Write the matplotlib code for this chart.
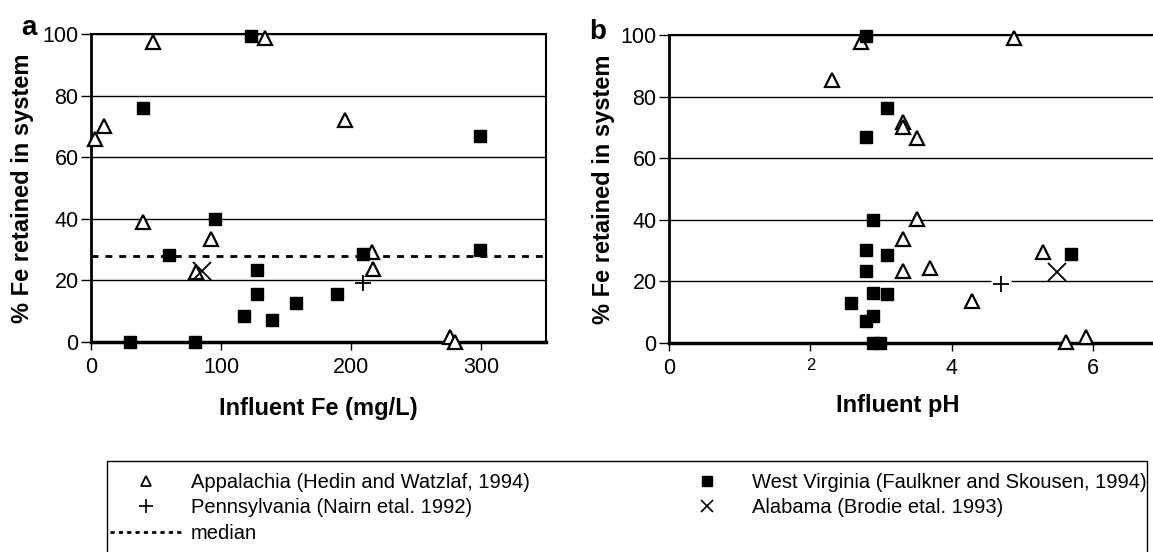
import matplotlib.pyplot as plt
from matplotlib.lines import Line2D
from matplotlib.patches import Rectangle

plt.rcParams['font.family'] = ['Liberation Sans', 'DejaVu Sans']

# Appalachia (Hedin and Watzlaf, 1994)
app_fe = [3, 10, 48, 134, 195, 40, 92, 81, 216, 217, 276, 280]
app_ret_fe = [66, 70, 97.5, 98.8, 72, 39, 33.3, 22.8, 29.3, 23.6, 1.7, 0.1]
app_ph = [4.88, 2.71, 2.31, 3.31, 3.31, 3.5, 3.5, 3.31, 3.31, 3.69, 5.29, 4.29, 5.61, 5.89]
app_ret_ph = [99.1, 97.8, 85.4, 71.8, 70, 66.7, 40.2, 33.7, 23.5, 24.3, 29.6, 13.7, 0.3, 1.8]

# West Virginia (Faulkner and Skousen, 1994)
wv_fe = [40, 123, 95, 60, 128, 128, 118, 139, 158, 189, 209, 299, 299, 30, 80]
wv_ret_fe = [76, 99.5, 39.8, 28.2, 23.4, 15.6, 8.4, 7.1, 12.8, 15.6, 28.6, 67, 29.9, 0, 0]
wv_ph = [2.79, 3.08, 2.79, 2.89, 2.79, 3.08, 2.79, 2.89, 3.08, 2.57, 2.89, 2.79, 2.89, 2.98, 5.69]
wv_ret_ph = [99.7, 76.2, 67, 39.9, 30.2, 28.6, 23.4, 16.1, 15.8, 12.9, 8.8, 7.2, 0, 0, 28.9]

# Pennsylvania (Nairn etal. 1992) and Alabama (Brodie etal. 1993)
pa_fe, pa_ph, pa_ret = [209], [4.69], [19.2]
al_fe, al_ph, al_ret = [85], [5.48], [23.2]

median_ret = 28

y_ticks = [0, 20, 40, 60, 80, 100]

app_style = dict(ls='none', marker='^', ms=10, mfc='white', mec='black', mew=1.6)
wv_style = dict(ls='none', marker='s', ms=8.5, mfc='black', mec='black', mew=1)
pa_style = dict(ls='none', marker='+', ms=12, mec='black', mew=1.3)
al_style = dict(ls='none', marker='x', ms=13, mec='black', mew=1.3)

TICK_FS = 15.5
LABEL_FS = 17


def setup_axes(ax):
    ax.set_ylim(0, 100)
    ax.set_yticks(y_ticks)
    ax.yaxis.grid(True, color='black', lw=1)
    ax.set_axisbelow(True)
    ax.spines['left'].set_linewidth(2)
    ax.spines['bottom'].set_linewidth(2.5)
    ax.spines['top'].set_linewidth(1.5)
    ax.spines['right'].set_linewidth(1.5)
    ax.tick_params(axis='y', direction='out', length=7, width=1, labelsize=TICK_FS, pad=2)
    ax.tick_params(axis='x', direction='out', length=6, width=1, labelsize=TICK_FS, pad=5)
    ax.set_ylabel('% Fe retained in system', fontsize=LABEL_FS, fontweight='bold')


fig = plt.figure(figsize=(11.53, 5.52), dpi=100)
W, H = 1153, 552

# Panel a: retention against influent Fe
ax1 = fig.add_axes([91 / W, 1 - 342 / H, 455 / W, 308 / H])
setup_axes(ax1)
ax1.set_xlim(0, 350)
ax1.set_xticks([0, 100, 200, 300])
ax1.axhline(median_ret, color='black', lw=2, ls=(0, (2.5, 2.5)), zorder=2)
ax1.plot(app_fe, app_ret_fe, clip_on=False, zorder=3, **app_style)
ax1.plot(wv_fe, wv_ret_fe, clip_on=False, zorder=3, **wv_style)
ax1.plot(pa_fe, pa_ret, zorder=3, **pa_style)
ax1.plot(al_fe, al_ret, zorder=3, **al_style)
ax1.set_xlabel('Influent Fe (mg/L)', fontsize=LABEL_FS, fontweight='bold')
ax1.xaxis.set_label_coords(0.5, -0.18)
ax1.yaxis.set_label_coords(-0.125, 0.5)
ax1.text(-0.136, 1.02, 'a', transform=ax1.transAxes, fontsize=20,
         fontweight='bold', ha='center', va='center')

# Panel b: retention against influent pH
ax2 = fig.add_axes([669 / W, 1 - 343 / H, 495 / W, 308 / H])
setup_axes(ax2)
ax2.set_xlim(0, 7)
ax2.set_xticks([0, 2, 4, 6])
ax2.get_xticklabels()[1].set_fontsize(12)
ax2.plot(app_ph, app_ret_ph, clip_on=False, zorder=3, **app_style)
ax2.plot(wv_ph, wv_ret_ph, clip_on=False, zorder=3, **wv_style)
ax2.plot(pa_ph, pa_ret, ls='none', marker='s', ms=14, mfc='white', mec='none', zorder=2)
ax2.plot(pa_ph, pa_ret, zorder=3, **pa_style)
ax2.plot(al_ph, al_ret, zorder=3, **al_style)
ax2.set_xlabel('Influent pH', fontsize=LABEL_FS, fontweight='bold')
ax2.xaxis.set_label_coords(0.463, -0.165)
ax2.yaxis.set_label_coords(-0.11, 0.5)
ax2.text(-0.145, 1.01, 'b', transform=ax2.transAxes, fontsize=20,
         fontweight='bold', ha='center', va='center')

# Shared legend below both panels: two columns inside one box
leg_kw = dict(loc='upper left', frameon=False, fontsize=14.5, handlelength=3.6,
              handletextpad=0.4, labelspacing=0.32, borderpad=0, borderaxespad=0)

left_handles = [
    Line2D([], [], ls='none', marker='^', ms=7, mfc='white', mec='black', mew=1.3),
    Line2D([], [], ls='none', marker='+', ms=10, mec='black', mew=1.2),
    Line2D([], [], color='black', lw=2, ls=(0, (1.5, 1.5))),
]
left_labels = [
    'Appalachia (Hedin and Watzlaf, 1994)',
    'Pennsylvania (Nairn etal. 1992)',
    'median',
]
right_handles = [
    Line2D([], [], ls='none', marker='s', ms=7, mfc='black', mec='black'),
    Line2D([], [], ls='none', marker='x', ms=9, mec='black', mew=1.2),
]
right_labels = [
    'West Virginia (Faulkner and Skousen, 1994)',
    'Alabama (Brodie etal. 1993)',
]

fig.legend(left_handles, left_labels, bbox_to_anchor=(110 / W, 1 - 473 / H), **leg_kw)
fig.legend(right_handles, right_labels, bbox_to_anchor=(671 / W, 1 - 473 / H), **leg_kw)
fig.patches.append(Rectangle((107 / W, -0.01), (1147 - 107) / W, 0.01 + (552 - 461) / H,
                             transform=fig.transFigure, fill=False,
                             edgecolor='black', lw=1))

fig.savefig('out.png', dpi=100)
